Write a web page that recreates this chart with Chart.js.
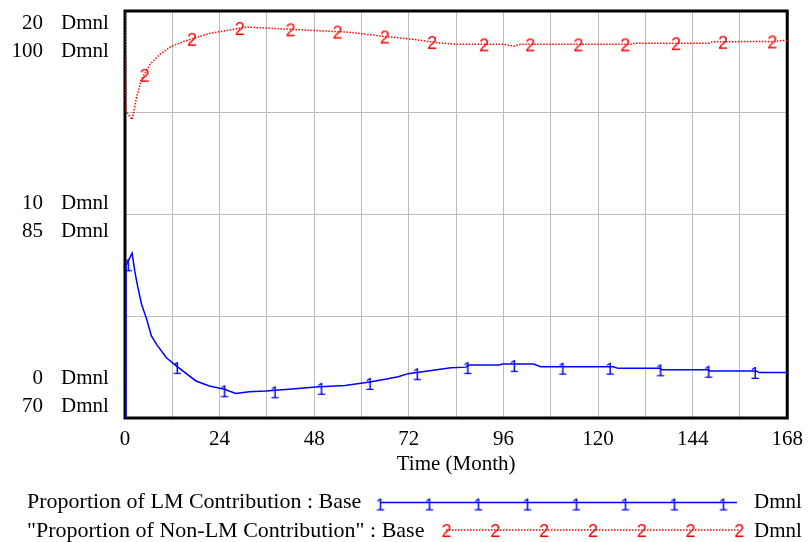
<!DOCTYPE html>
<html lang="en">
<head>
<meta charset="UTF-8">
<title>Proportion of LM Contribution</title>
<script src="https://cdn.jsdelivr.net/npm/chart.js@4.4.0/dist/chart.umd.min.js"></script>
<style>
    body { margin: 0; background: #fff; }
    #chart { display: block; }
</style>
</head>
<body>
<canvas id="chart" width="812" height="542"></canvas>
<script>
// Series 1 (blue, left scale 0-20)
const lmMonths = [0, 0.25, 1.8, 2.5, 3.1, 4.2, 5.5, 6.7, 8, 10.5, 13, 18, 21.4, 25.2, 28.1, 31.5, 35.7, 43.2, 48.3, 55.8, 62.1, 66, 69.3,
    71.8, 76.8, 82.7, 86.5, 87.2, 95, 95.6, 103.7, 105.4, 123.9, 125.1, 135.6, 136.2, 147.9, 148.4, 160.2, 160.8, 168];
const lmValues = [0, 7.5, 8.1, 7.2, 6.57, 5.59, 4.85, 4.03, 3.62, 2.96, 2.56, 1.82, 1.57, 1.41, 1.21, 1.29, 1.33, 1.44, 1.52, 1.6, 1.77, 1.9, 2.03,
    2.18, 2.31, 2.47, 2.5, 2.6, 2.6, 2.65, 2.65, 2.52, 2.52, 2.44, 2.44, 2.37, 2.37, 2.31, 2.31, 2.23, 2.23];

// Series 2 (red, scale 70-100)
const nonLmMonths = [0, 0.25, 1.8, 2.9, 4.2, 6.3, 8.8, 11.8, 16.4, 21.4, 27.3, 30.6, 37.4, 47.4, 56.7, 65.1, 73.5, 79.3, 84.4, 96.1,
    98.7, 100.3, 128, 129.7, 148.2, 149, 165, 166.7, 168];
const nonLmValues = [100, 92.6, 92.0, 93.6, 94.96, 96.06, 96.8, 97.41, 97.9, 98.35, 98.64, 98.81, 98.72, 98.57, 98.44, 98.15, 97.9, 97.66, 97.54, 97.54,
    97.41, 97.54, 97.54, 97.63, 97.63, 97.73, 97.76, 97.83, 97.83];

// marker glyph positions along each line
const lmMarkMonths = [0.8, 13.2, 25.2, 38, 49.8, 62.1, 74.1, 86.9, 98.7, 111, 123, 135.8, 148, 159.8];
const lmMarkValues = [7.6, 2.55, 1.41, 1.36, 1.53, 1.77, 2.25, 2.55, 2.65, 2.52, 2.52, 2.44, 2.37, 2.31];
const nonLmMarkMonths = [5, 17, 29.1, 42, 53.9, 65.9, 77.9, 91.1, 102.8, 115, 126.9, 139.8, 151.7, 164.2];
const nonLmMarkValues = [95.3, 97.95, 98.75, 98.65, 98.48, 98.12, 97.72, 97.54, 97.54, 97.54, 97.54, 97.63, 97.73, 97.76];

const xTickLabels = [0, 24, 48, 72, 96, 120, 144, 168];
const lmTicks = [0, 10, 20];
const nonLmTicks = [70, 85, 100];
const unit = 'Dmnl';
const seriesNames = ['Proportion of LM Contribution : Base', '"Proportion of Non-LM Contribution" : Base'];

const SERIF = '"Liberation Serif", "Times New Roman", serif';
const SANS = '"Liberation Sans", Arial, sans-serif';
const BLUE = '#0000ff';
const RED = '#ff0000';

function pts(xs, ys) {
    return xs.map((x, i) => ({ x: x, y: ys[i] }));
}

function glyph(ch, color, size, dy) {
    const c = document.createElement('canvas');
    c.width = 20; c.height = 24;
    const g = c.getContext('2d');
    g.fillStyle = color;
    g.font = size + 'px ' + SANS;
    g.textAlign = 'center';
    g.textBaseline = 'alphabetic';
    g.fillText(ch, 10, 12 + dy);
    return c;
}
const mark1 = glyph('1', BLUE, 17, 8);
const mark2 = glyph('2', RED, 18, 7);

// black frame round the plot, under the data lines
const framePlugin = {
    id: 'frame',
    beforeDatasetsDraw(chart) {
        const a = chart.chartArea, ctx = chart.ctx;
        ctx.save();
        ctx.strokeStyle = '#000';
        ctx.lineWidth = 3;
        ctx.strokeRect(a.left, a.top, a.right - a.left, a.bottom - a.top);
        ctx.restore();
    }
};

// stacked left axis labels + the legend rows
const textPlugin = {
    id: 'texts',
    afterDraw(chart) {
        const ctx = chart.ctx, a = chart.chartArea;
        const yLM = chart.scales.yLM;
        ctx.save();
        ctx.fillStyle = '#000';
        ctx.font = '21px ' + SERIF;
        ctx.textBaseline = 'alphabetic';
        lmTicks.forEach((v, i) => {
            const px = yLM.getPixelForValue(v);
            const u = Math.min(Math.max(px - 5.5, a.top + 18), a.bottom - 34);
            ctx.textAlign = 'right';
            ctx.fillText(String(v), 43, u);
            ctx.fillText(String(nonLmTicks[i]), 43, u + 28);
            ctx.textAlign = 'left';
            ctx.fillText(unit, 61, u);
            ctx.fillText(unit, 61, u + 28);
        });

        // legend
        ctx.textAlign = 'left';
        ctx.font = '22px ' + SERIF;
        ctx.fillText(seriesNames[0], 27, 508);
        ctx.fillText(seriesNames[1], 27, 537);
        ctx.font = '21px ' + SERIF;
        ctx.fillText(unit, 754, 508);
        ctx.fillText(unit, 754, 537);

        ctx.strokeStyle = BLUE;
        ctx.lineWidth = 1.5;
        ctx.beginPath();
        ctx.moveTo(380, 502.5);
        ctx.lineTo(737, 502.5);
        ctx.stroke();
        for (let k = 0; k < 8; k++) {
            ctx.drawImage(mark1, 380.3 + 49 * k - 10, 502.5 - 12);
        }

        ctx.strokeStyle = RED;
        ctx.setLineDash([1.5, 1.5]);
        ctx.beginPath();
        ctx.moveTo(446, 530);
        ctx.lineTo(739, 530);
        ctx.stroke();
        ctx.setLineDash([]);
        for (let k = 0; k < 7; k++) {
            ctx.drawImage(mark2, 446.5 + 48.8 * k - 10, 530 - 12);
        }
        ctx.restore();
    }
};

new Chart(document.getElementById('chart'), {
    type: 'line',
    data: {
        datasets: [{
            type: 'scatter',
            data: pts(lmMarkMonths, lmMarkValues),
            yAxisID: 'yLM',
            pointStyle: mark1,
            pointRadius: 10,
            showLine: false,
            order: 0
        }, {
            type: 'scatter',
            data: pts(nonLmMarkMonths, nonLmMarkValues),
            yAxisID: 'yNon',
            pointStyle: mark2,
            pointRadius: 10,
            showLine: false,
            order: 1
        }, {
            label: seriesNames[0],
            data: pts(lmMonths, lmValues),
            yAxisID: 'yLM',
            borderColor: BLUE,
            borderWidth: 1.5,
            pointRadius: 0,
            tension: 0,
            order: 2
        }, {
            label: seriesNames[1],
            data: pts(nonLmMonths, nonLmValues),
            yAxisID: 'yNon',
            borderColor: RED,
            borderWidth: 1.5,
            borderDash: [1.5, 1.5],
            pointRadius: 0,
            tension: 0,
            order: 3
        }]
    },
    options: {
        responsive: false,
        animation: false,
        events: [],
        layout: { padding: { left: 125, right: 20, top: 10, bottom: 0 } },
        plugins: { legend: { display: false }, tooltip: { enabled: false } },
        scales: {
            x: {
                type: 'linear',
                min: 0,
                max: 168,
                afterFit: s => { s.height = 124; },
                ticks: {
                    stepSize: 12,
                    maxTicksLimit: 20,
                    autoSkip: false,
                    maxRotation: 0,
                    padding: 9,
                    color: '#000',
                    font: { family: SERIF, size: 21 },
                    callback: v => xTickLabels.includes(v) ? String(v) : ''
                },
                grid: { color: '#bdbdbd', lineWidth: 1, drawTicks: false },
                border: { display: false },
                title: {
                    display: true,
                    text: 'Time (Month)',
                    color: '#000',
                    font: { family: SERIF, size: 21 },
                    padding: { top: 0, bottom: 65 }
                }
            },
            yLM: {
                position: 'left',
                min: 0,
                max: 20,
                afterFit: s => { s.width = 0; },
                ticks: { stepSize: 5, display: false },
                grid: { color: '#bdbdbd', lineWidth: 1, drawTicks: false },
                border: { display: false }
            },
            yNon: {
                position: 'left',
                min: 70,
                max: 100,
                display: false
            }
        }
    },
    plugins: [framePlugin, textPlugin]
});
</script>
</body>
</html>
